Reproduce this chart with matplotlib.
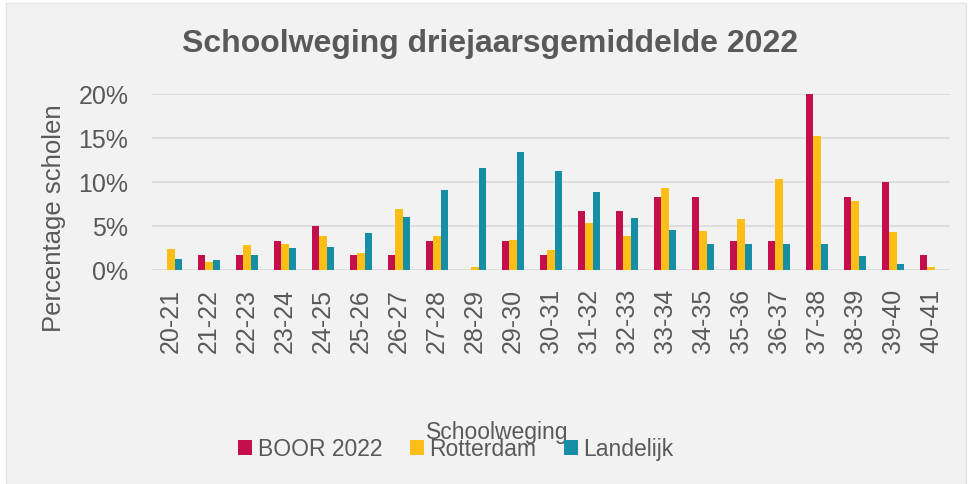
import matplotlib
matplotlib.use('Agg')
import matplotlib.pyplot as plt
from matplotlib.patches import Rectangle
from matplotlib.ticker import PercentFormatter
import numpy as np

# category labels (schoolweging bands)
categories = ['20-21', '21-22', '22-23', '23-24', '24-25', '25-26', '26-27', '27-28',
              '28-29', '29-30', '30-31', '31-32', '32-33', '33-34', '34-35', '35-36',
              '36-37', '37-38', '38-39', '39-40', '40-41']

# percentages
boor = [0.0, 1.7, 1.7, 3.3, 5.0, 1.7, 1.7, 3.3, 0.0, 3.3, 1.7, 6.7,
        6.7, 8.3, 8.3, 3.3, 3.3, 20.0, 8.3, 10.0, 1.7]
rotterdam = [2.4, 0.9, 2.8, 2.9, 3.9, 1.9, 6.9, 3.9, 0.3, 3.4, 2.3, 5.3,
             3.9, 9.3, 4.4, 5.8, 10.3, 15.2, 7.8, 4.3, 0.3]
landelijk = [1.3, 1.1, 1.7, 2.5, 2.6, 4.2, 6.0, 9.1, 11.6, 13.4, 11.3, 8.9,
             5.9, 4.6, 2.9, 2.9, 2.9, 2.9, 1.6, 0.7, 0.0]

series_names = ['BOOR 2022', 'Rotterdam', 'Landelijk']
colors = ['#c4104a', '#fdbf17', '#168fa6']
grey = '#595959'
plt.rcParams['font.family'] = ['Liberation Sans', 'DejaVu Sans']

fig = plt.figure(figsize=(9.68, 4.85), dpi=100)
fig.patch.set_facecolor('white')
# light grey chart panel with a thin white margin top/left
fig.patches.append(Rectangle((6/968, 0), 960/968, 481/485, transform=fig.transFigure,
                             facecolor='#f2f2f2', edgecolor='#e4e4e4', linewidth=1, zorder=-10))

ax = fig.add_axes([152/968, 214/485, 798/968, 176/485])
ax.set_facecolor('none')
ax.set_zorder(2)

x = np.arange(len(categories))
w = 0.2
for i, (vals, name, c) in enumerate(zip([boor, rotterdam, landelijk], series_names, colors)):
    ax.bar(x + (i - 1) * w, vals, width=w, color=c, label=name, zorder=3, clip_on=False)

ax.set_xlim(-0.5, len(categories) - 0.5)
ax.set_ylim(0, 20)
ax.set_yticks([0, 5, 10, 15, 20])
ax.yaxis.set_major_formatter(PercentFormatter(decimals=0))
ax.grid(axis='y', color='#d9d9d9', linewidth=1.2, zorder=0)
for s in ax.spines.values():
    s.set_visible(False)
ax.tick_params(length=0, colors=grey, labelsize=18)
ax.tick_params(axis='y', pad=17)
ax.tick_params(axis='x', pad=13)
ax.set_xticks(x)
ax.set_xticklabels(categories, rotation=90)

fig.text(490/968, 1 - 44/485, 'Schoolweging driejaarsgemiddelde 2022', ha='center', va='center',
         fontsize=23, fontweight='bold', color=grey)
fig.text(54/968, 1 - 218/485, 'Percentage scholen', rotation=90, ha='center', va='center',
         fontsize=18.5, color=grey)
fig.text(497/968, 1 - 433/485, 'Schoolweging', ha='center', va='center', fontsize=16.5, color=grey)

leg = fig.legend(loc='center', bbox_to_anchor=(456/968, 35/485), ncol=3, frameon=False,
                 fontsize=16.5, handlelength=0.6, handleheight=0.6, handletextpad=0.25,
                 columnspacing=1.2, labelcolor=grey)

fig.savefig('out.png', dpi=100, facecolor=fig.get_facecolor())
